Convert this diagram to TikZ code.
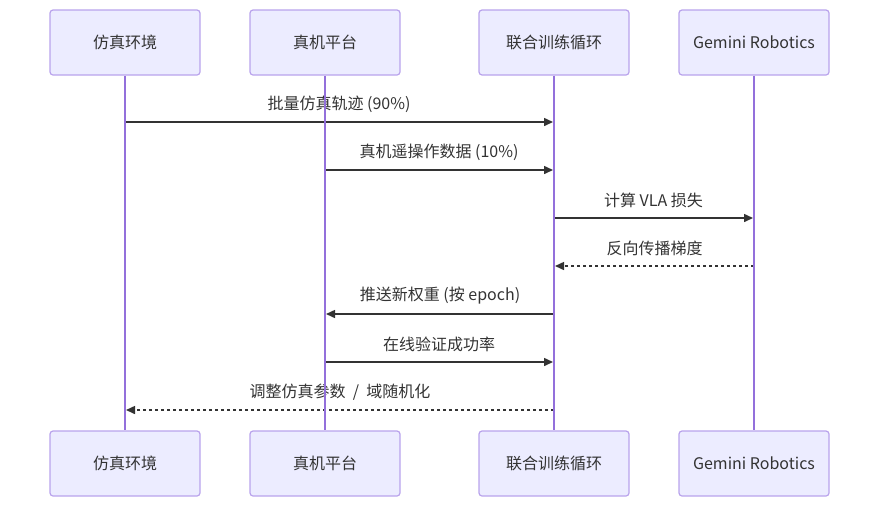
\documentclass[tikz,border=0pt]{standalone}
\usepackage{fontspec}
\setmainfont{Noto Sans CJK SC}
\usetikzlibrary{arrows.meta,positioning,calc}
\definecolor{actorfill}{HTML}{ECECFF}
\definecolor{actorrim}{HTML}{B9A3EC}
\definecolor{lifecol}{HTML}{9370DB}
\definecolor{msgcol}{HTML}{333333}

\begin{document}
\begin{tikzpicture}
	[
	x = 1pt, y = -1pt,
	> = {Triangle[length=9pt,width=8pt]},
	actor/.style = {draw=actorrim, fill=actorfill, line width=1.2pt, rounded corners=3pt, minimum width=150pt, minimum height=65pt, inner sep=0pt, text=msgcol, font=\fontsize{16pt}{19pt}\selectfont},
	lifeline/.style = {draw=lifecol, line width=1.8pt},
	msg/.style = {draw=msgcol, line width=1.5pt, ->},
	reply/.style = {msg, dash pattern=on 3pt off 3pt},
	msglabel/.style = {text=msgcol, font=\fontsize{16pt}{19pt}\selectfont, yshift=18pt}
	]
		\useasboundingbox (0,0) rectangle (879,507);

		% actors, top row
		\node[actor] (simtop)   at (125,42.5) {仿真环境};
		\node[actor] (realtop)  at (325,42.5) {真机平台};
		\node[actor] (looptop)  at (554,42.5) {联合训练循环};
		\node[actor] (gemtop)   at (754,42.5) {Gemini Robotics};

		% actors, bottom row
		\node[actor] (simbot)   at (125,463.5) {仿真环境};
		\node[actor] (realbot)  at (325,463.5) {真机平台};
		\node[actor] (loopbot)  at (554,463.5) {联合训练循环};
		\node[actor] (gembot)   at (754,463.5) {Gemini Robotics};

		% message ends on the lifelines
		\coordinate (sim1)  at (125,122);
		\coordinate (loop1) at (553,122);
		\coordinate (real2) at (325,170);
		\coordinate (loop2) at (553,170);
		\coordinate (loop3) at (554,218);
		\coordinate (gem3)  at (753,218);
		\coordinate (gem4)  at (754,266);
		\coordinate (loop4) at (555,266);
		\coordinate (loop5) at (554,314);
		\coordinate (real5) at (326,314);
		\coordinate (real6) at (325,362);
		\coordinate (loop6) at (553,362);
		\coordinate (loop7) at (554,410);
		\coordinate (sim7)  at (126,410);

		\draw[msg]   (sim1)  -- (loop1) node[midway,msglabel] {批量仿真轨迹 (90\%)};
		\draw[msg]   (real2) -- (loop2) node[midway,msglabel] {真机遥操作数据 (10\%)};
		\draw[msg]   (loop3) -- (gem3)  node[midway,msglabel] {计算 VLA 损失};
		\draw[reply] (gem4)  -- (loop4) node[midway,msglabel] {反向传播梯度};
		\draw[msg]   (loop5) -- (real5) node[midway,msglabel] {推送新权重 (按 epoch)};
		\draw[msg]   (real6) -- (loop6) node[midway,msglabel] {在线验证成功率};
		\draw[reply] (loop7) -- (sim7)  node[midway,msglabel] {调整仿真参数 ~/~ 域随机化};

		% lifelines
		\draw[lifeline] (simtop.south)  -- (simbot.north);
		\draw[lifeline] (realtop.south) -- (realbot.north);
		\draw[lifeline] (looptop.south) -- (loopbot.north);
		\draw[lifeline] (gemtop.south)  -- (gembot.north);

	\end{tikzpicture}
\end{document}
